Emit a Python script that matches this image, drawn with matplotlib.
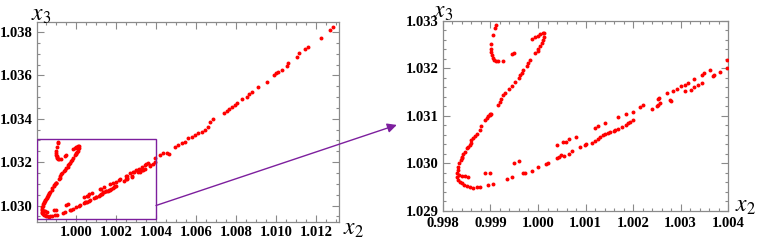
import numpy as np
import matplotlib
matplotlib.use("Agg")
import matplotlib.pyplot as plt
from matplotlib.patches import Rectangle, ConnectionPatch
from matplotlib.ticker import MultipleLocator, FormatStrFormatter

# ---- data (x2, x3) ----
# small hook at the top of the loop
hook_x2 = [0.99912, 0.99909, 0.99906, 0.99902, 0.99902, 0.99902, 0.99903, 0.99905, 0.99907,
           0.99912, 0.99916, 0.99926, 0.99945, 0.99949]
hook_x3 = [1.03292, 1.03286, 1.03270, 1.03251, 1.03242, 1.03235, 1.03228, 1.03223, 1.03218,
           1.03216, 1.03216, 1.03216, 1.03230, 1.03233]

# arm from the upper tip down round the bend
arm_x2 = [0.99987, 0.99994, 0.99999, 1.00004, 1.00010, 1.00013, 1.00013, 1.00010, 1.00008, 1.00004,
          1.00001, 0.99999, 0.99994, 0.99983, 0.99980, 0.99976, 0.99969, 0.99966, 0.99962, 0.99959,
          0.99952, 0.99945, 0.99938, 0.99931, 0.99926, 0.99922, 0.99919, 0.99916, 0.99900, 0.99902,
          0.99899, 0.99895, 0.99892, 0.99888, 0.99881, 0.99878, 0.99871, 0.99867, 0.99864, 0.99860,
          0.99860, 0.99857, 0.99853, 0.99850, 0.99846, 0.99843, 0.99841, 0.99839, 0.99837, 0.99834,
          0.99832, 0.99832, 0.99830, 0.99830, 0.99832, 0.99836, 0.99839, 0.99844, 0.99850, 0.99857,
          0.99864, 0.99871, 0.99878]
arm_x3 = [1.03262, 1.03266, 1.03269, 1.03272, 1.03275, 1.03274, 1.03267, 1.03260, 1.03253, 1.03248,
          1.03242, 1.03237, 1.03232, 1.03218, 1.03211, 1.03206, 1.03197, 1.03190, 1.03186, 1.03179,
          1.03172, 1.03164, 1.03157, 1.03148, 1.03144, 1.03136, 1.03129, 1.03123, 1.03105, 1.03104,
          1.03102, 1.03099, 1.03095, 1.03092, 1.03079, 1.03071, 1.03062, 1.03058, 1.03053, 1.03049,
          1.03044, 1.03039, 1.03035, 1.03032, 1.03025, 1.03020, 1.03014, 1.03011, 1.03007, 1.03000,
          1.02993, 1.02986, 1.02979, 1.02972, 1.02965, 1.02962, 1.02958, 1.02955, 1.02953, 1.02950,
          1.02949, 1.02950, 1.02951]

tail_x2 = [0.99834, 0.99839, 0.99846, 0.99853]
tail_x3 = [1.02976, 1.02974, 1.02974, 1.02972]

# lower branch
low_x2 = [0.99888, 0.99898, 0.99895, 0.99905, 0.99934, 0.99945, 0.99949, 0.99961, 0.99968, 0.99973,
          0.99987, 1.00001, 1.00017, 1.00022, 1.00039, 1.00045, 1.00048, 1.00055, 1.00065, 1.00072,
          1.00088, 1.00099, 1.00102, 1.00113, 1.00120, 1.00126, 1.00131, 1.00137, 1.00141, 1.00148,
          1.00152, 1.00159, 1.00163, 1.00168, 1.00176, 1.00185, 1.00189, 1.00194, 1.00199]
low_x3 = [1.02981, 1.02981, 1.02955, 1.02957, 1.02967, 1.02971, 1.03002, 1.03006, 1.02979, 1.02981,
          1.02985, 1.02992, 1.02999, 1.03002, 1.03012, 1.03014, 1.03018, 1.03016, 1.03021, 1.03027,
          1.03035, 1.03039, 1.03041, 1.03044, 1.03047, 1.03051, 1.03055, 1.03060, 1.03062, 1.03065,
          1.03067, 1.03069, 1.03071, 1.03072, 1.03076, 1.03081, 1.03085, 1.03088, 1.03092]

# upper branch
up_x2 = [1.00039, 1.00053, 1.00058, 1.00065, 1.00079, 1.00120, 1.00127, 1.00142, 1.00169, 1.00185,
         1.00199, 1.00215, 1.00222, 1.00239, 1.00250, 1.00253, 1.00257, 1.00252, 1.00255, 1.00278,
         1.00280, 1.00271, 1.00285, 1.00292, 1.00302, 1.00309, 1.00316, 1.00309, 1.00322, 1.00329,
         1.00329, 1.00336, 1.00345, 1.00345, 1.00350, 1.00362, 1.00369, 1.00371, 1.00383, 1.00397,
         1.00397]
up_x3 = [1.03039, 1.03046, 1.03046, 1.03051, 1.03056, 1.03074, 1.03078, 1.03085, 1.03097, 1.03104,
         1.03109, 1.03118, 1.03123, 1.03114, 1.03120, 1.03123, 1.03127, 1.03135, 1.03137, 1.03134,
         1.03132, 1.03148, 1.03153, 1.03156, 1.03163, 1.03165, 1.03170, 1.03153, 1.03155, 1.03162,
         1.03177, 1.03165, 1.03170, 1.03186, 1.03190, 1.03197, 1.03184, 1.03186, 1.03193, 1.03202,
         1.03217]

# far part, only seen in the left panel
far_x2 = [1.00420, 1.00437, 1.00453, 1.00467, 1.00495, 1.00512, 1.00528, 1.00545, 1.00562, 1.00578,
          1.00595, 1.00612, 1.00628, 1.00645, 1.00662, 1.00670, 1.00687, 1.00740, 1.00753, 1.00767,
          1.00778, 1.00795, 1.00807, 1.00828, 1.00853, 1.00867, 1.00878, 1.00912, 1.00953, 1.00990,
          1.01000, 1.01012, 1.01028, 1.01053, 1.01062, 1.01107, 1.01117, 1.01145, 1.01162, 1.01225,
          1.01270, 1.01283]
far_x3 = [1.03233, 1.03240, 1.03243, 1.03236, 1.03271, 1.03279, 1.03286, 1.03294, 1.03309, 1.03314,
          1.03325, 1.03333, 1.03340, 1.03348, 1.03360, 1.03386, 1.03397, 1.03428, 1.03437, 1.03443,
          1.03452, 1.03463, 1.03471, 1.03489, 1.03499, 1.03514, 1.03524, 1.03545, 1.03570, 1.03601,
          1.03609, 1.03617, 1.03624, 1.03644, 1.03655, 1.03686, 1.03701, 1.03720, 1.03729, 1.03770,
          1.03809, 1.03821]

x2 = np.array(hook_x2 + arm_x2 + tail_x2 + low_x2 + up_x2 + far_x2)
x3 = np.array(hook_x3 + arm_x3 + tail_x3 + low_x3 + up_x3 + far_x3)

zoom_box = (0.99805, 1.004, 1.02938, 1.03306)

plt.rcParams['mathtext.fontset'] = 'stix'
purple = '#7d1f9e'
frame = '#8a8a8a'
tickfont = {'family': 'Liberation Serif', 'weight': 'bold', 'size': 10.5}


def style(ax, xmaj, xmin, ymaj, ymin):
    ax.xaxis.set_major_locator(MultipleLocator(xmaj))
    ax.xaxis.set_minor_locator(MultipleLocator(xmin))
    ax.yaxis.set_major_locator(MultipleLocator(ymaj))
    ax.yaxis.set_minor_locator(MultipleLocator(ymin))
    ax.xaxis.set_major_formatter(FormatStrFormatter('%.3f'))
    ax.yaxis.set_major_formatter(FormatStrFormatter('%.3f'))
    ax.tick_params(which='both', direction='in', top=True, right=True, color=frame, width=0.8)
    ax.tick_params(which='major', length=5, pad=3)
    ax.tick_params(which='minor', length=2.5)
    for s in ax.spines.values():
        s.set_color(frame)
        s.set_linewidth(0.9)
    for lab in ax.get_xticklabels() + ax.get_yticklabels():
        lab.set_fontproperties(tickfont)


fig = plt.figure(figsize=(7.57, 2.45), dpi=100)
ax1 = fig.add_axes([0.0489, 0.0939, 0.3989, 0.8163])
ax2 = fig.add_axes([0.5852, 0.1388, 0.3765, 0.7755])

for ax in (ax1, ax2):
    ax.scatter(x2, x3, s=8, c='#ff0000', linewidths=0, zorder=3)

ax1.set_xlim(0.99805, 1.01315)
ax1.set_ylim(1.02924, 1.03846)
style(ax1, 0.002, 0.0005, 0.002, 0.0005)

ax2.set_xlim(0.998, 1.004)
ax2.set_ylim(1.029, 1.033)
style(ax2, 0.001, 0.0002, 0.001, 0.0002)
ax2.tick_params(axis='x', which='major', pad=4)

ax1.add_patch(Rectangle((zoom_box[0], zoom_box[2]), zoom_box[1] - zoom_box[0],
                        zoom_box[3] - zoom_box[2], fill=False, ec=purple, lw=1.0, zorder=4))

con = ConnectionPatch(xyA=(zoom_box[1], 1.0300), coordsA='data', axesA=ax1,
                      xyB=(-0.162, 0.453), coordsB='axes fraction', axesB=ax2,
                      arrowstyle='-|>', color=purple, lw=1.0, mutation_scale=14)
fig.add_artist(con)

fig.text(0.041, 0.99, r'$x_3$', ha='left', va='top', fontsize=17)
fig.text(0.453, 0.118, r'$x_2$', ha='left', va='top', fontsize=17)
fig.text(0.572, 1.005, r'$x_3$', ha='left', va='top', fontsize=17)
fig.text(0.971, 0.212, r'$x_2$', ha='left', va='top', fontsize=17)

fig.savefig('out.png', dpi=100)
